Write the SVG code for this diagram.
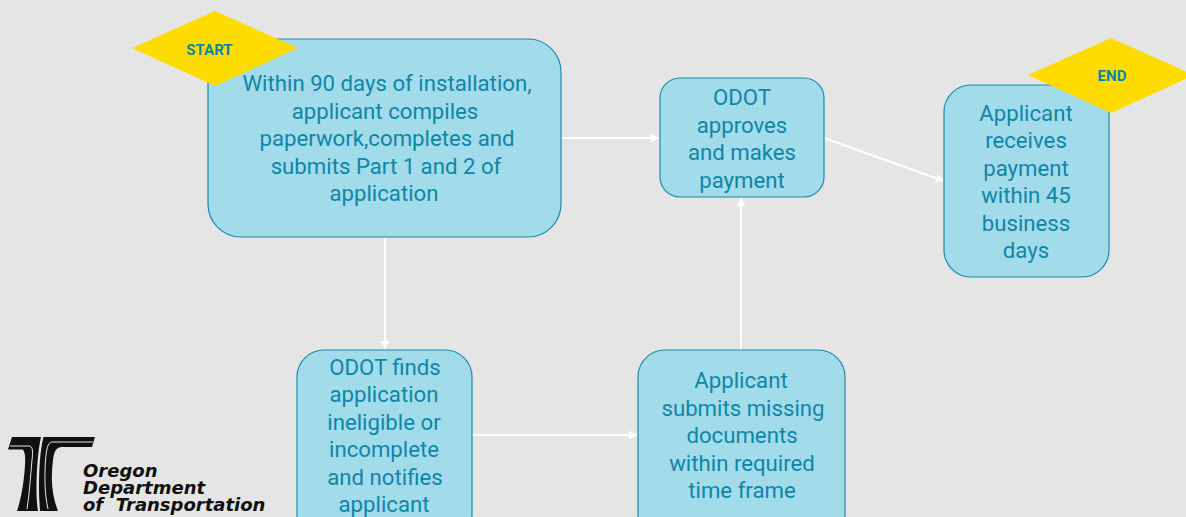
<svg xmlns="http://www.w3.org/2000/svg" width="1186" height="517" viewBox="0 0 1186 517">
<style>
.box{fill:#a2dbe9;stroke:#1a8bab;stroke-width:1.2}
.dia{fill:#ffdc00}
.t{font-family:"Roboto","Liberation Sans",sans-serif;font-size:22.2px;fill:#0e86a8;text-anchor:middle}
.k{font-family:"Roboto","Liberation Sans",sans-serif;font-size:15px;font-weight:700;fill:#0a87a8;text-anchor:middle}
.c{fill:none;stroke:#fff;stroke-width:2;marker-end:url(#a)}
.l{font-family:"DejaVu Sans",sans-serif;font-size:18px;font-weight:700;font-style:italic;fill:#111}
.g{fill:none;stroke:#e5e5e5;stroke-width:1}
</style>
<defs><marker id="a" markerUnits="userSpaceOnUse" markerWidth="9" markerHeight="9" refX="8" refY="4.5" orient="auto"><path d="M0 0L8 4.5L0 9z" fill="#fff"/></marker></defs>
<rect width="1186" height="517" fill="#e5e5e5"/>
<g id="connectors">
<path class="c" d="M561 138H659"/>
<path class="c" d="M824 138L944 181"/>
<path class="c" d="M385 237V349"/>
<path class="c" d="M472 435H637"/>
<path class="c" d="M741 350V198"/>
</g>
<g id="n1"><rect class="box" x="208" y="39" width="353" height="198" rx="33"/>
<text class="t"><tspan x="387" y="91">Within 90 days of installation,</tspan><tspan x="385" y="119">applicant compiles</tspan><tspan x="387" y="146">paperwork,completes and</tspan><tspan x="386" y="174">submits Part 1 and 2 of</tspan><tspan x="384" y="201">application</tspan></text></g>
<g id="start"><path class="dia" d="M215 11L298 48L215 86L132 48z"/><text class="k" x="209.500" y="55">START</text></g>
<g id="n2"><rect class="box" x="660" y="78" width="164" height="119" rx="20"/>
<text class="t"><tspan x="742" y="105">ODOT</tspan><tspan x="742" y="133">approves</tspan><tspan x="742" y="160">and makes</tspan><tspan x="742" y="188">payment</tspan></text></g>
<g id="n3"><rect class="box" x="944" y="85" width="165" height="192" rx="27"/>
<text class="t"><tspan x="1026" y="121">Applicant</tspan><tspan x="1026" y="148">receives</tspan><tspan x="1026" y="176">payment</tspan><tspan x="1026" y="203">within 45</tspan><tspan x="1026" y="231">business</tspan><tspan x="1026" y="258">days</tspan></text></g>
<g id="end"><path class="dia" d="M1111 38L1194 75L1111 113L1028 75z"/><text class="k" x="1112" y="81">END</text></g>
<g id="n4"><rect class="box" x="297" y="350" width="175" height="192" rx="27"/>
<text class="t"><tspan x="385" y="375">ODOT finds</tspan><tspan x="384" y="402">application</tspan><tspan x="384" y="430">ineligible or</tspan><tspan x="384" y="457">incomplete</tspan><tspan x="385" y="485">and notifies</tspan><tspan x="384" y="512">applicant</tspan></text></g>
<g id="n5"><rect class="box" x="638" y="350" width="207" height="192" rx="27"/>
<text class="t"><tspan x="741" y="388">Applicant</tspan><tspan x="743" y="416">submits missing</tspan><tspan x="742" y="443">documents</tspan><tspan x="742" y="471">within required</tspan><tspan x="742" y="498">time frame</tspan></text></g>
<g id="logo">
<path fill="#111" d="M12 437H41C38 450 36.500 470 36.500 490C36.500 498 37 505 38 511H17C21 500 24 482 25 465C25.500 456 25 453 23 449.500H8z"/>
<path fill="#111" d="M43.500 437H95L92 447H62C56 447 54 452 53 460C51 476 51 494 58 511H40C39.500 503 39 496 39 490C39 470 40 450 43.500 437z"/>
<path class="g" d="M10 446H29C33 446 33 452 32 460C30.500 476 29.500 494 27 509"/>
<path class="g" d="M93 442H52C47.500 442 46.500 450 45.500 460C44.500 476 44.500 494 48 509"/>
<text class="l" x="83" y="477">Oregon</text>
<text class="l" x="83" y="494">Department</text>
<text class="l" x="83" y="511" xml:space="preserve">of  Transportation</text>
</g>
</svg>
